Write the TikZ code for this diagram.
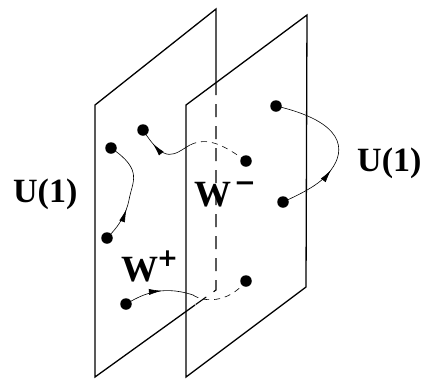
\documentclass[tikz,border=0pt]{standalone}
\usepackage{fontspec}
\setmainfont{Liberation Serif}
\newfontfamily\signfont{DejaVu Sans}
\usetikzlibrary{arrows.meta,decorations.markings}
\tikzset{
  plane/.style={line width=1.3pt, line join=miter},
  hidden/.style={line width=1.1pt, dash pattern=on 13pt off 9pt},
  wire/.style={line width=0.6pt},
  hwire/.style={line width=0.6pt, dash pattern=on 6pt off 5pt},
  dot/.style={circle, fill=black, inner sep=0pt, minimum size=11.5pt},
  lab/.style={inner sep=0pt, anchor=base west, font=\bfseries\fontsize{34}{34}\selectfont},
  wlab/.style={inner sep=0pt, anchor=base west, font=\bfseries\fontsize{37}{37}\selectfont},
  arr/.style={postaction={decorate}, decoration={markings, mark=at position #1 with {\arrow{Latex[length=13pt,width=6pt]}}}}
}
\begin{document}
\begin{tikzpicture}[x=1pt,y=-1pt]
\useasboundingbox (0,0) rectangle (426,378);
% back plane
\draw[plane] (216,82) -- (216,9) -- (95,105) -- (95,377) -- (195,305);
\draw[hidden] (216,82) -- (216,290) -- (195,305);
% front plane
\draw[plane] (186,105) -- (307,15) -- (306,287) -- (186,377) -- cycle;
% dots
\node[dot] (A) at (111,148) {};
\node[dot] (B) at (143,130) {};
\node[dot] (C) at (107,238) {};
\node[dot] (D) at (126,304) {};
\node[dot] (E) at (246,161) {};
\node[dot] (F) at (246,281) {};
\node[dot] (G) at (276,106) {};
\node[dot] (H) at (283,202) {};
\coordinate (p) at (190,145);
\coordinate (q) at (193,295);
% connectors
\draw[wire, arr=0.33] (C.center) .. controls (120,225) and (126,214) .. (129,200) .. controls (132,182) and (144,170) .. (A.center);
\draw[hwire] (E.center) .. controls (225,146) and (208,136) .. (p);
\draw[wire, arr=0.72] (p) .. controls (174,154) and (166,166) .. (B.center);
\draw[wire, arr=0.55] (D.center) .. controls (140,296) and (160,284) .. (q);
\draw[hwire] (q) .. controls (203,302) and (228,304) .. (F.center);
\draw[wire, arr=0.36] (H.center) .. controls (305,192) and (322,183) .. (331,170) .. controls (346,150) and (345,122) .. (G.center);
% labels
\node[lab] (u1) at (13,202) {U(1)};
\node[lab] (u2) at (357,171) {U(1)};
\node[wlab] (wm) at (194,206) {W\hspace{3pt}\raisebox{15pt}{\signfont\bfseries\fontsize{26}{26}\selectfont −}};
\node[wlab] (wp) at (121,281) {W\hspace{-1pt}\raisebox{15pt}{\signfont\bfseries\fontsize{25}{25}\selectfont +}};
\end{tikzpicture}
\end{document}
